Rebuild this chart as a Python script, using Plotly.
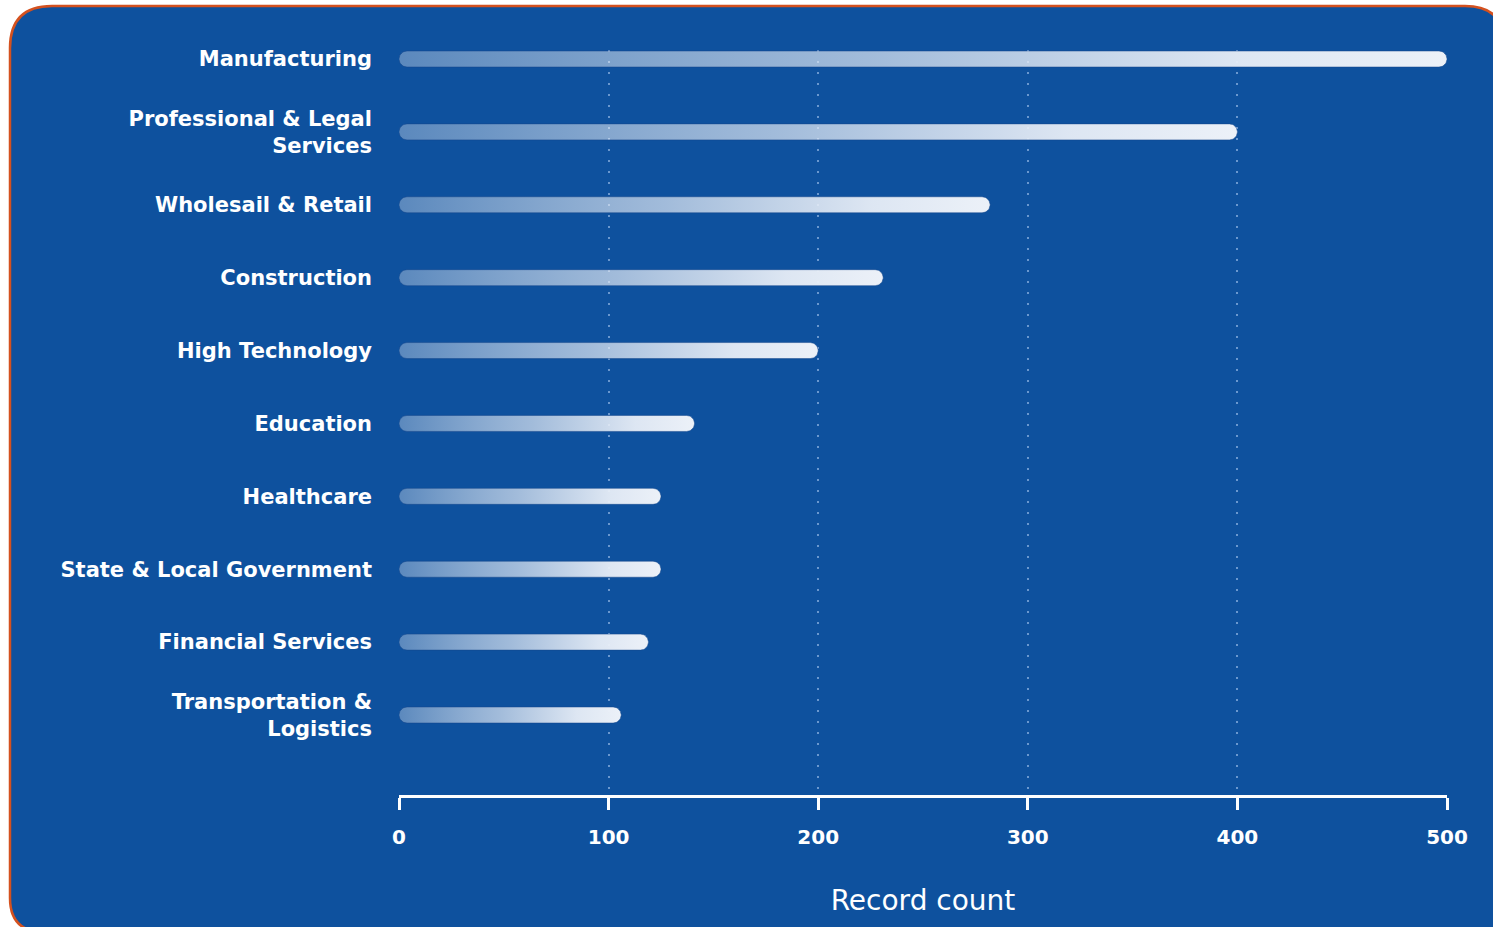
import numpy as np
import plotly.graph_objects as go

categories = [
    "Manufacturing",
    "Professional & Legal<br>Services",
    "Wholesail & Retail",
    "Construction",
    "High Technology",
    "Education",
    "Healthcare",
    "State & Local Government",
    "Financial Services",
    "Transportation &<br>Logistics",
]
record_counts = [500, 400, 282, 231, 200, 141, 125, 125, 119, 106]
x_ticks = [0, 100, 200, 300, 400, 500]

W, H = 1493, 927
ML, MR, MT, MB = 399, 46, 50, 132
plot_w = W - ML - MR
plot_h = H - MT - MB
x_range = [0, 500]
y_range = [9 + 80 / 72.89, -9 / 72.89]  # reversed

px_per_x = plot_w / (x_range[1] - x_range[0])
px_per_y = plot_h / (y_range[0] - y_range[1])
half_px = 8.0
rx = half_px / px_per_x
ry = half_px / px_per_y

fig = go.Figure()

theta_r = np.linspace(-np.pi / 2, np.pi / 2, 24)
theta_l = np.linspace(np.pi / 2, 3 * np.pi / 2, 24)
for i, v in enumerate(record_counts):
    xs = np.concatenate([(v - rx) + rx * np.cos(theta_r), rx + rx * np.cos(theta_l)])
    ys = np.concatenate([i + ry * np.sin(theta_r), i + ry * np.sin(theta_l)])
    xs = np.append(xs, xs[0])
    ys = np.append(ys, ys[0])
    fig.add_trace(go.Scatter(
        x=xs, y=ys, mode="lines", fill="toself",
        line=dict(width=1, color="rgba(20,70,140,0.5)"),
        fillgradient=dict(
            type="horizontal",
            colorscale=[
                [0, "rgba(255,255,255,0.32)"],
                [0.45, "rgba(225,233,244,0.7)"],
                [0.8, "rgba(232,238,247,0.95)"],
                [1, "rgba(236,241,248,1)"],
            ],
        ),
        hoverinfo="skip", showlegend=False,
    ))


def px2paper(px, py):
    return (px - ML) / plot_w, (H - MB - py) / plot_h


def P(px, py):
    x, y = px2paper(px, py)
    return f"{x:.5f},{y:.5f}"


# background card
r_tl, r_tr, r_bl = 42, 40, 34
left, top, right, bottom = 10, 6, 1505, 932
path = (
    f"M {P(left, top + r_tl)} Q {P(left, top)} {P(left + r_tl, top)} "
    f"L {P(right - r_tr, top)} Q {P(right, top)} {P(right, top + r_tr)} "
    f"L {P(right, bottom)} L {P(left + r_bl, bottom)} "
    f"Q {P(left, bottom)} {P(left, bottom - r_bl)} Z"
)
fig.add_shape(type="path", path=path, xref="paper", yref="paper",
              fillcolor="#0e519e", line=dict(color="#d4511f", width=2.5),
              layer="below")

font_family = "DejaVu Sans"
fig.update_layout(
    width=W, height=H,
    margin=dict(l=ML, r=MR, t=MT, b=MB, autoexpand=False),
    paper_bgcolor="white",
    plot_bgcolor="rgba(0,0,0,0)",
    font=dict(family=font_family, color="white"),
    xaxis=dict(
        range=x_range, tickvals=x_ticks, ticktext=[str(t) for t in x_ticks],
        showgrid=True, gridcolor="rgba(170,200,240,0.6)", griddash="2px,9px", gridwidth=2,
        zeroline=False,
        showline=True, linecolor="white", linewidth=2.5,
        ticks="outside", ticklen=12, tickwidth=2.5, tickcolor="white",
        tickfont=dict(family=font_family, size=20, color="white", weight="bold"),
        ticklabelstandoff=10,
        title=dict(text="Record count", standoff=43,
                   font=dict(family=font_family, size=28, color="white")),
        fixedrange=True,
    ),
    yaxis=dict(
        range=y_range, tickvals=list(range(len(categories))), ticktext=categories,
        showgrid=False, zeroline=False, showline=False, ticks="",
        tickfont=dict(family=font_family, size=21, color="white", weight="bold"),
        ticklabelstandoff=26,
        fixedrange=True,
    ),
)

fig.write_html(
    "out.html",
    config={"displayModeBar": False},
    post_script="document.body.style.margin='0';document.body.style.overflow='hidden';",
)
